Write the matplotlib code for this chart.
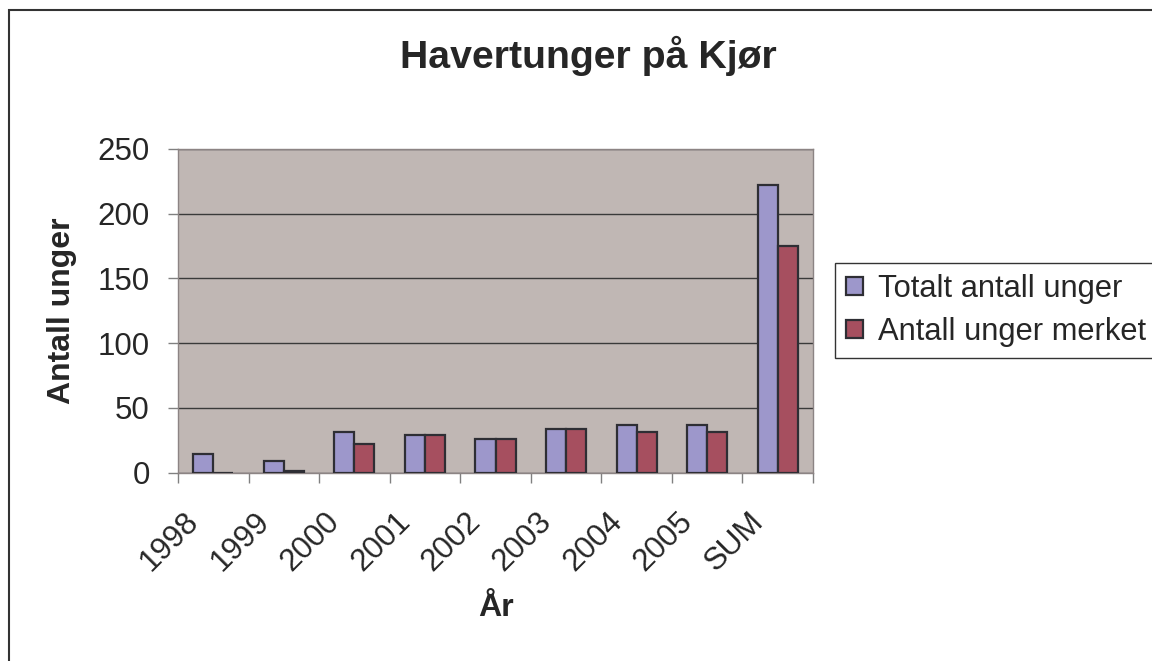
import matplotlib
matplotlib.use("Agg")
import matplotlib.pyplot as plt
from matplotlib.patches import Rectangle
from matplotlib.transforms import ScaledTranslation
import numpy as np

plt.rcParams['font.family'] = ['Liberation Sans', 'DejaVu Sans']

aar = ['1998', '1999', '2000', '2001', '2002', '2003', '2004', '2005', 'SUM']
totalt = [14, 9, 31, 29, 26, 34, 37, 37, 222]
merket = [0, 1, 22, 29, 26, 34, 31, 31, 175]

tekst = '#262626'
kant = '#2e2e34'

fig = plt.figure(figsize=(11.52, 6.61), dpi=100)
fig.patch.set_facecolor('white')

# ramme rundt hele diagrammet (høyre/nederst kuttet i originalen)
fig.patches.append(Rectangle((9 / 1152, -0.1), 1.2, 1.1 - 10 / 661,
                             transform=fig.transFigure, fill=False,
                             edgecolor='#333333', linewidth=1.5))

ax = fig.add_axes([178 / 1152, 1 - 472.6 / 661, 635 / 1152, 323.6 / 661])
ax.set_facecolor('#c0b7b4')

x = np.arange(len(aar))
b = 0.285
ax.bar(x - b / 2, totalt, b, color='#9d97cb', edgecolor=kant, linewidth=1.6,
       label='Totalt antall unger', zorder=3)
ax.bar(x + b / 2, merket, b, color='#a64f5f', edgecolor=kant, linewidth=1.6,
       label='Antall unger merket', zorder=3)

ax.set_xlim(-0.5, len(aar) - 0.5)
ax.set_ylim(0, 250)
ax.set_yticks(range(0, 251, 50))
ax.yaxis.grid(True, color='#3a3a3a', linewidth=1.0, zorder=1)

for s in ax.spines.values():
    s.set_color('#8c8484')
    s.set_linewidth(1.0)

# ticks mellom kategoriene, etiketter i midten
ax.set_xticks(np.arange(-0.5, len(aar)), labels=[])
ax.set_xticks(x, labels=aar, minor=True)
ax.tick_params(axis='x', which='major', direction='out', length=7.2, width=1,
               color='#808080')
ax.tick_params(axis='x', which='minor', length=0, pad=32, labelsize=22.5,
               labelcolor=tekst)
ax.tick_params(axis='y', direction='out', length=7.2, width=1, color='#808080',
               pad=13, labelsize=22.5, labelcolor=tekst)

forskyv = ScaledTranslation(-0.19, 0, fig.dpi_scale_trans)
for lab in ax.get_xticklabels(minor=True):
    lab.set_rotation(45)
    lab.set_rotation_mode('anchor')
    lab.set_ha('right')
    lab.set_va('center')
    lab.set_transform(lab.get_transform() + forskyv)

ax.set_ylabel('Antall unger', fontsize=23, fontweight='bold', color=tekst)
ax.yaxis.set_label_coords(-0.159, 0.5)
ax.set_xlabel('År', fontsize=23, fontweight='bold', color=tekst)
ax.xaxis.set_label_coords(0.5, -0.372)

fig.text(588 / 1152, 1 - 56 / 661, 'Havertunger på Kjør', ha='center', va='center',
         fontsize=28.3, fontweight='bold', color=tekst)

leg = ax.legend(loc='upper left', bbox_to_anchor=(835 / 1152, 1 - 263 / 661),
                bbox_transform=fig.transFigure, borderaxespad=0, fontsize=22.2,
                handlelength=0.55, handleheight=0.55, handletextpad=0.5,
                borderpad=0.35, labelspacing=0.42, fancybox=False,
                edgecolor='#333333', framealpha=1)
leg.get_frame().set_linewidth(1.0)
for t in leg.get_texts():
    t.set_color(tekst)

fig.savefig('out.png', dpi=100)
